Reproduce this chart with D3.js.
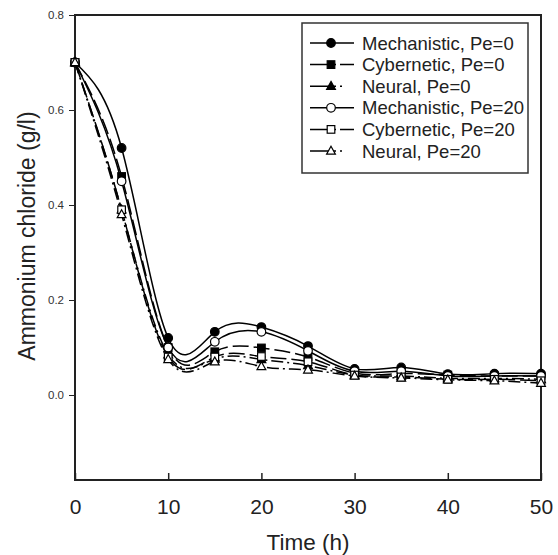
<!DOCTYPE html>
<html>
<head>
<meta charset="utf-8">
<script src="https://cdn.jsdelivr.net/npm/d3@7"></script>
<style>
  body { margin: 0; background: #fff; }
  svg { display: block; font-family: Arial, "Liberation Sans", sans-serif; }
</style>
</head>
<body>
<svg id="chart" width="558" height="555"></svg>
<script>
const time = [0, 5, 10, 15, 20, 25, 30, 35, 40, 45, 50];
const mechPe0   = [0.70, 0.52, 0.120, 0.133, 0.143, 0.103, 0.055, 0.058, 0.044, 0.045, 0.045];
const cyberPe0  = [0.70, 0.46, 0.100, 0.091, 0.099, 0.080, 0.046, 0.045, 0.042, 0.040, 0.040];
const neuralPe0 = [0.70, 0.39, 0.085, 0.076, 0.075, 0.062, 0.042, 0.040, 0.035, 0.035, 0.033];
const mechPe20  = [0.70, 0.45, 0.100, 0.112, 0.133, 0.093, 0.050, 0.050, 0.040, 0.040, 0.040];
const cyberPe20 = [0.70, 0.39, 0.080, 0.080, 0.081, 0.070, 0.042, 0.038, 0.033, 0.033, 0.030];
const neuralPe20= [0.70, 0.38, 0.075, 0.070, 0.060, 0.053, 0.040, 0.036, 0.032, 0.030, 0.025];

const seriesNames = ["Mechanistic, Pe=0", "Cybernetic, Pe=0", "Neural, Pe=0",
                     "Mechanistic, Pe=20", "Cybernetic, Pe=20", "Neural, Pe=20"];
const seriesValues = [mechPe0, cyberPe0, neuralPe0, mechPe20, cyberPe20, neuralPe20];
const xTicks = [0, 10, 20, 30, 40, 50];
const yTicks = [0.0, 0.2, 0.4, 0.6, 0.8];

const styles = [
  {shape: "circle",   fill: "#000", dash: null},
  {shape: "square",   fill: "#000", dash: "16,5"},
  {shape: "triangle", fill: "#000", dash: "12,4,2,4"},
  {shape: "circle",   fill: "#fff", dash: null},
  {shape: "square",   fill: "#fff", dash: "16,5"},
  {shape: "triangle", fill: "#fff", dash: "12,4,2,4"}
];

const svg = d3.select("#chart");
const pLeft = 75, pRight = 541, pTop = 15, pBottom = 480;
const x = d3.scaleLinear().domain([0, 50]).range([pLeft, pRight]);
const y = d3.scaleLinear().domain([0, 0.8]).range([395, 15]);

const axisColor = "#222";

// frame
svg.append("rect").attr("x", pLeft).attr("y", pTop)
  .attr("width", pRight - pLeft).attr("height", pBottom - pTop)
  .attr("fill", "none").attr("stroke", axisColor).attr("stroke-width", 2);

// x axis ticks (inward)
const xAxis = d3.axisBottom(x).tickValues(xTicks).tickSizeInner(-7).tickSizeOuter(0).tickPadding(19).tickFormat(d3.format("d"));
const gx = svg.append("g").attr("transform", `translate(0,${pBottom})`).call(xAxis);
gx.select(".domain").remove();
gx.selectAll(".tick line").attr("stroke", axisColor).attr("stroke-width", 1.5);
gx.selectAll(".tick text").attr("font-size", 21).attr("fill", "#222").attr("font-family", "Arial, 'Liberation Sans', sans-serif");

// y axis ticks (outward)
const yAxis = d3.axisLeft(y).tickValues(yTicks).tickSizeInner(6).tickSizeOuter(0).tickPadding(5).tickFormat(d3.format(".1f"));
const gy = svg.append("g").attr("transform", `translate(${pLeft},0)`).call(yAxis);
gy.select(".domain").remove();
gy.selectAll(".tick line").attr("stroke", axisColor).attr("stroke-width", 1);
gy.selectAll(".tick text").attr("font-size", 11.5).attr("fill", "#333").attr("font-family", "Arial, 'Liberation Sans', sans-serif");

// axis titles
svg.append("text").attr("x", 308).attr("y", 550)
  .attr("text-anchor", "middle").attr("font-size", 22.5).attr("fill", "#222").text("Time (h)");
svg.append("text").attr("transform", `translate(35,236) rotate(-90)`)
  .attr("text-anchor", "middle").attr("font-size", 23).attr("fill", "#222").text("Ammonium chloride (g/l)");

// lines
const line = d3.line().x(d => x(d[0])).y(d => y(d[1])).curve(d3.curveNatural);
const gLines = svg.append("g");
seriesValues.forEach((vals, i) => {
  const pts = time.map((t, j) => [t, vals[j]]);
  gLines.append("path").datum(pts).attr("d", line)
    .attr("fill", "none").attr("stroke", "#000").attr("stroke-width", 1.5)
    .attr("stroke-dasharray", styles[i].dash);
});

function drawMarker(g, shape, fill, cx, cy) {
  if (shape === "circle") {
    g.append("circle").attr("cx", cx).attr("cy", cy).attr("r", 4.3)
      .attr("fill", fill).attr("stroke", "#000").attr("stroke-width", 1.2);
  } else if (shape === "square") {
    g.append("rect").attr("x", cx - 3.8).attr("y", cy - 3.8).attr("width", 7.6).attr("height", 7.6)
      .attr("fill", fill).attr("stroke", "#000").attr("stroke-width", 1.2);
  } else {
    g.append("path").attr("d", `M${cx},${cy - 4.8}L${cx + 4.4},${cy + 3.2}L${cx - 4.4},${cy + 3.2}Z`)
      .attr("fill", fill).attr("stroke", "#000").attr("stroke-width", 1.2);
  }
}

const gMarks = svg.append("g");
seriesValues.forEach((vals, i) => {
  time.forEach((t, j) => drawMarker(gMarks, styles[i].shape, styles[i].fill, x(t), y(vals[j])));
});

// legend
const lg = svg.append("g");
lg.append("rect").attr("x", 302).attr("y", 23).attr("width", 226).attr("height", 150)
  .attr("fill", "#fff").attr("stroke", "#333").attr("stroke-width", 1.5);
seriesNames.forEach((name, i) => {
  const ly = 43 + i * 21.6;
  lg.append("line").attr("x1", 310).attr("x2", 354).attr("y1", ly).attr("y2", ly)
    .attr("stroke", "#000").attr("stroke-width", 1.5)
    .attr("stroke-dasharray", styles[i].dash ? (i % 3 === 1 ? "26,4,14" : "26,4,2,12") : null);
  drawMarker(lg, styles[i].shape, styles[i].fill, 331, ly);
  lg.append("text").attr("x", 362).attr("y", ly + 6.5).attr("font-size", 18.5).attr("fill", "#222").text(name);
});
</script>
</body>
</html>
